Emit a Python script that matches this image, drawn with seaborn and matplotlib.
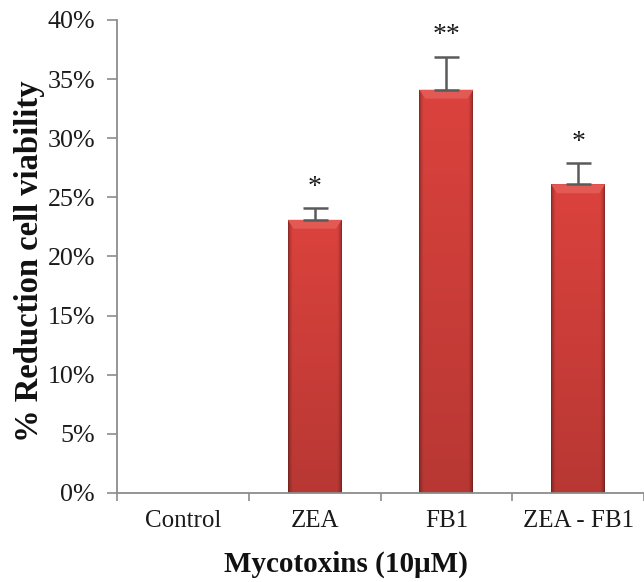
import numpy as np
import pandas as pd
import matplotlib
matplotlib.use("Agg")
import matplotlib.pyplot as plt
from matplotlib.patches import Polygon
from matplotlib.ticker import FuncFormatter, FixedLocator
import seaborn as sns

# Cell viability reduction per mycotoxin treatment
treatments = ["Control", "ZEA", "FB1", "ZEA - FB1"]
reduction = [0.0, 23.1, 34.1, 26.1]      # % reduction in cell viability
sd_upper = [0.0, 1.0, 2.8, 1.8]          # standard deviation (upper bar only)
significance = ["", "*", "**", "*"]

df = pd.DataFrame({"treatment": treatments, "reduction": reduction})

sns.set_style("white")
plt.rcParams["font.family"] = ["Liberation Serif", "DejaVu Serif"]

fig = plt.figure(figsize=(6.44, 5.82), dpi=100)
ax = fig.add_axes([0.182, 0.153, 0.818, 0.8127])

sns.barplot(data=df, x="treatment", y="reduction", order=treatments,
            color="#c83a36", width=0.41, errorbar=None, ax=ax, zorder=2)

# Cylinder-like shading: dark edges, lighter centre, deeper toward the base
nx, ny = 64, 128
u = np.linspace(0, 1, nx)
v = np.linspace(0, 1, ny)[:, None]          # 0 = bottom, 1 = top
edge = np.clip(np.minimum(u, 1 - u) / 0.08, 0, 1) ** 0.6
light = 0.62 + 0.38 * edge                 # horizontal profile
vert = 0.84 + 0.16 * v                      # darker near the base
base = np.array([0.86, 0.26, 0.24])
shade = (light[None, :] * vert)[..., None] * base[None, None, :]
shade = np.clip(shade, 0, 1)

bars = [p for p in ax.patches if p.get_height() > 0]
for p in bars:
    x0, y0 = p.get_x(), p.get_y()
    w, h = p.get_width(), p.get_height()
    p.set_edgecolor("none")
    im = ax.imshow(shade, extent=[x0, x0 + w, y0, y0 + h], origin="lower",
                   aspect="auto", zorder=2.1, interpolation="bilinear")
    im.set_clip_path(p)
    # light bevel along the top face
    d, bh = w * 0.11, 0.75
    bevel = Polygon([[x0, y0 + h], [x0 + w, y0 + h],
                     [x0 + w - d, y0 + h - bh], [x0 + d, y0 + h - bh]],
                    closed=True, facecolor="#e35a55", edgecolor="none",
                    zorder=2.2)
    ax.add_patch(bevel)

xpos = np.arange(len(treatments))
has_err = np.array(sd_upper) > 0
ax.errorbar(xpos[has_err], np.array(reduction)[has_err],
            yerr=[np.zeros(has_err.sum()), np.array(sd_upper)[has_err]],
            fmt="none", ecolor="#5a5a5a", elinewidth=1.8, capsize=9,
            capthick=1.8, zorder=3)

for x, val, err, s in zip(xpos, reduction, sd_upper, significance):
    if s:
        ax.text(x, val + err + 0.7, s, ha="center", va="bottom",
                fontsize=20, color="#1a1a1a", zorder=4)

ax.set_ylim(0, 40)
ax.set_xlim(-0.5, 3.5)
ax.yaxis.set_major_locator(FixedLocator(np.arange(0, 41, 5)))
ax.yaxis.set_major_formatter(FuncFormatter(lambda y, _: f"{y:.0f}%"))

# category ticks sit between groups; labels stay centred
ax.set_xticks(xpos)
ax.set_xticks(np.arange(-0.5, 3.6, 1.0), minor=True)
ax.tick_params(axis="x", which="major", length=0, pad=12,
               labelsize=18, labelcolor="#1a1a1a")
ax.tick_params(axis="x", which="minor", length=6, width=1.2,
               color="#8c8c8c", direction="out", bottom=True)
ax.tick_params(axis="y", length=7, width=1.2, color="#8c8c8c",
               direction="out", left=True, pad=9,
               labelsize=18.7, labelcolor="#1a1a1a")

for side in ["top", "right"]:
    ax.spines[side].set_visible(False)
for side in ["left", "bottom"]:
    ax.spines[side].set_color("#8c8c8c")
    ax.spines[side].set_linewidth(1.3)

ax.set_xlabel("Mycotoxins (10\u03bcM)", fontsize=21, fontweight="bold",
              color="#111111")
ax.set_ylabel("% Reduction cell viability", fontsize=23.5, fontweight="bold",
              color="#111111")
ax.xaxis.set_label_coords(0.434, -0.123)
ax.yaxis.set_label_coords(-0.138, 0.49)

fig.savefig("out.png", dpi=100)
